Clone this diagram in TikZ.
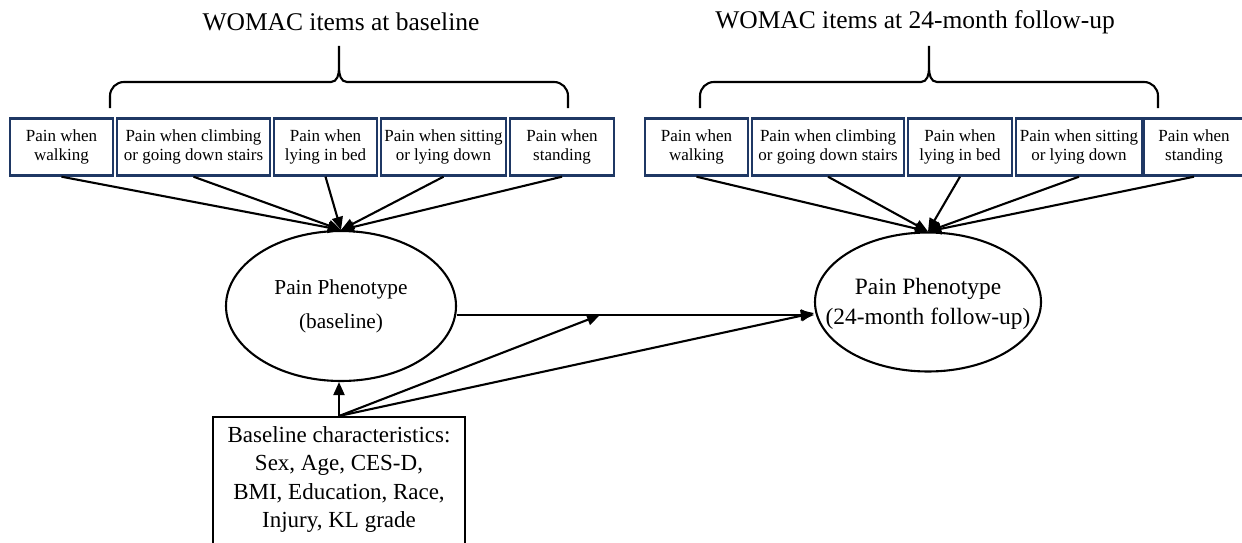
\documentclass[tikz,border=0pt]{standalone}
\usepackage{fontspec}
\setmainfont{Liberation Serif}
\usetikzlibrary{shapes.geometric,arrows.meta}
\definecolor{itemblue}{HTML}{1F3864}

\begin{document}
\begin{tikzpicture}[x=1pt,y=-1pt]
%styles
\tikzstyle{item}=[rectangle, draw=itemblue, line width=2.4pt, minimum height=57pt, inner sep=0pt, align=center, font=\fontsize{17}{19.5}\selectfont]
\tikzstyle{title}=[rectangle, text=black, font=\fontsize{25.5}{30}\selectfont]
\tikzstyle{latent}=[ellipse, draw, line width=2.1pt, inner sep=0pt]
\tikzstyle{arrow}=[-{Triangle[length=13pt,width=11pt]}, line width=2.1pt]
\tikzstyle{brace}=[line width=2.1pt]
%figure
\useasboundingbox (0,0) rectangle (1242,543);

%baseline
\node[title] (tb) at (341,22) {WOMAC items at baseline};
\draw[brace] (110,108) -- (110,96) to[out=90,in=180] (124,82) -- (331,82)
  to[out=0,in=-90] (339,68) -- (339,46) -- (339,68) to[out=-90,in=180] (347,82) -- (554,82)
  to[out=0,in=90] (568,96) -- (568,108);

\node[item, minimum width=103pt] (b1) at (61.5,147) {Pain when\\walking};
\node[item, minimum width=153pt] (b2) at (193.5,147) {Pain when climbing\\or going down stairs};
\node[item, minimum width=103pt] (b3) at (325.5,147) {Pain when\\lying in bed};
\node[item, minimum width=125pt] (b4) at (443.5,147) {Pain when sitting\\or lying down};
\node[item, minimum width=104pt] (b5) at (562,147) {Pain when\\standing};

\node[latent, minimum width=230pt, minimum height=150pt] (pb) at (341,306) {};
\node[align=center, font=\fontsize{21.3}{34}\selectfont] (pbt) at (pb.center) {Pain Phenotype\\(baseline)};

\draw[arrow] (b1.south) -- (pb.north);
\draw[arrow] (b2.south) -- (pb.north);
\draw[arrow] (b3.south) -- (pb.north);
\draw[arrow] (b4.south) -- (pb.north);
\draw[arrow] (b5.south) -- (pb.north);

%follow-up
\node[title] (tf) at (915,22) {WOMAC items at 24-month follow-up};
\draw[brace] (700,108) -- (700,96) to[out=90,in=180] (714,82) -- (921,82)
  to[out=0,in=-90] (929,68) -- (929,46) -- (929,68) to[out=-90,in=180] (937,82) -- (1144,82)
  to[out=0,in=90] (1158,96) -- (1158,108);

\node[item, minimum width=103pt] (f1) at (696.5,147) {Pain when\\walking};
\node[item, minimum width=152pt] (f2) at (828,147) {Pain when climbing\\or going down stairs};
\node[item, minimum width=104pt] (f3) at (960,147) {Pain when\\lying in bed};
\node[item, minimum width=126pt] (f4) at (1079,147) {Pain when sitting\\or lying down};
\node[item, minimum width=100pt] (f5) at (1194,147) {Pain when\\standing};

\node[latent, minimum width=226pt, minimum height=139pt] (pf) at (928,302) {};
\node[align=center, font=\fontsize{23.4}{30}\selectfont] (pft) at ([yshift=-2pt]pf.center) {Pain Phenotype\\(24-month follow-up)};

\draw[arrow] (f1.south) -- (pf.north);
\draw[arrow] (f2.south) -- (pf.north);
\draw[arrow] (f3.south) -- (pf.north);
\draw[arrow] (f4.south) -- (pf.north);
\draw[arrow] (f5.south) -- (pf.north);

%covariates
\node[rectangle, draw, line width=2.1pt, minimum width=252pt, minimum height=150pt, anchor=north] (bc) at (339,416) {};
\node[align=center, font=\fontsize{23}{28.5}\selectfont, anchor=north] (bct) at ([yshift=-7pt]bc.north)
  {Baseline characteristics:\\Sex, Age, CES-D,\\BMI, Education, Race,\\Injury, KL grade};

\coordinate (mid) at (600,315);
\draw[arrow] (pb.east |- mid) -- (pf.west |- mid);
\draw[arrow] (bc.north) -- (bc.north |- pb.south);
\draw[arrow] (bc.north) -- (mid);
\draw[arrow] (bc.north) -- ([yshift=2pt]pf.west |- mid);

\end{tikzpicture}
\end{document}
